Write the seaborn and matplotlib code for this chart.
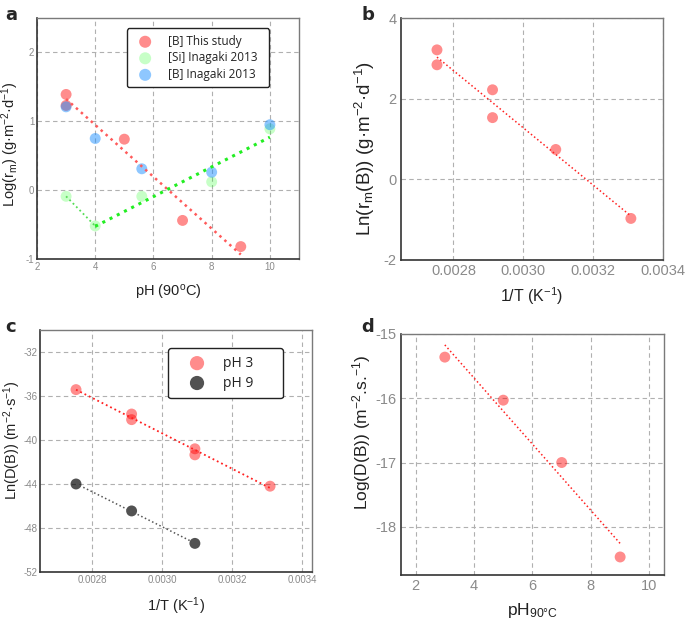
import numpy as np
import pandas as pd
import matplotlib
matplotlib.use("Agg")
import matplotlib.pyplot as plt
import matplotlib.ticker as mticker
import seaborn as sns

# ── Data ──────────────────────────────────────────────────────────────────────
# (a) log dissolution rate vs pH
ph_this = [3, 3, 5, 7, 9]
logr_this = [1.39, 1.23, 0.74, -0.44, -0.82]
ph_si = [3, 4, 5.6, 8, 10]
logr_si = [-0.09, -0.52, -0.09, 0.12, 0.89]
ph_b_ina = [3, 4, 5.6, 8, 10]
logr_b_ina = [1.21, 0.75, 0.31, 0.26, 0.95]

# (b) Arrhenius plot of rates
invT_b = [0.002753, 0.002753, 0.002912, 0.002912, 0.003093, 0.003308]
lnr_b = [3.21, 2.84, 2.22, 1.53, 0.74, -0.97]

# (c) Arrhenius plot of diffusion coefficients
invT_ph3 = [0.002753, 0.002912, 0.002912, 0.003093, 0.003093, 0.003308]
lnD_ph3 = [-35.42, -37.64, -38.15, -40.8, -41.35, -44.2]
invT_ph9 = [0.002753, 0.002912, 0.003093]
lnD_ph9 = [-44.0, -46.45, -49.4]

# (d) log D vs pH
ph_d = [3, 5, 7, 9]
logD_d = [-15.36, -16.03, -17.0, -18.47]

# ── Style ─────────────────────────────────────────────────────────────────────
sns.set_style("white", {"axes.edgecolor": "#333333"})
plt.rcParams["font.family"] = ["Liberation Sans", "DejaVu Sans"]
plt.rcParams["mathtext.default"] = "regular"
plt.rcParams["axes.unicode_minus"] = False

RED = "red"
GREEN = "lime"
BLUE = "#1e90ff"
DARK = "black"
TICK_C = "#8a8a8a"
LABEL_C = "#222222"
LEG_FONT = ["Open Sans", "DejaVu Sans"]
MS = 62


def style_axes(ax, tick_size):
    for side in ["left", "bottom"]:
        ax.spines[side].set_color("#333333")
        ax.spines[side].set_linewidth(1.2)
    for side in ["top", "right"]:
        ax.spines[side].set_color("#7a7a7a")
        ax.spines[side].set_linewidth(1.0)
    ax.grid(True, which="major", color="#b0b0b0", linestyle=(0, (4, 3)), linewidth=0.8)
    ax.set_axisbelow(True)
    ax.tick_params(which="both", direction="in", color="#333333",
                   labelcolor=TICK_C, labelsize=tick_size, pad=3)
    ax.tick_params(which="major", length=4, width=1)
    ax.tick_params(which="minor", length=2.5, width=1)


def scatter(ax, x, y, color, alpha, label=None, s=MS):
    df = pd.DataFrame({"x": x, "y": y})
    sns.scatterplot(data=df, x="x", y="y", ax=ax, color=color, alpha=alpha,
                    s=s, edgecolor="none", label=label, legend=False)


def fit(ax, x, y, color, lw):
    df = pd.DataFrame({"x": x, "y": y})
    sns.regplot(data=df, x="x", y="y", ax=ax, scatter=False, ci=None,
                line_kws={"color": color, "linestyle": ":", "linewidth": lw})


def boxed_legend(ax, bbox, size, **kw):
    leg = ax.legend(loc="upper left", bbox_to_anchor=bbox, mode="expand",
                    borderaxespad=0, frameon=True, fancybox=True,
                    edgecolor="#222222", framealpha=1,
                    prop={"family": LEG_FONT, "size": size}, **kw)
    leg.get_frame().set_linewidth(1.0)
    for t in leg.get_texts():
        t.set_color("#222222")
    return leg


fig = plt.figure(figsize=(6.85, 6.23), dpi=100)
ax_a = fig.add_axes([0.054, 0.5843, 0.3825, 0.3868])
ax_b = fig.add_axes([0.5854, 0.5827, 0.3825, 0.3884])
ax_c = fig.add_axes([0.0584, 0.0819, 0.3971, 0.3884])
ax_d = fig.add_axes([0.5854, 0.0771, 0.3839, 0.3868])

# ── (a) ───────────────────────────────────────────────────────────────────────
style_axes(ax_a, 7)
ax_a.tick_params(pad=2)
fit(ax_a, ph_this, logr_this, "#ff5a5a", 1.8)
fit(ax_a, ph_si[:2], logr_si[:2], "#55dd55", 1.3)
fit(ax_a, ph_si[1:], logr_si[1:], "#22ee22", 2.2)
scatter(ax_a, ph_this, logr_this, RED, 0.45, "[B] This study")
scatter(ax_a, ph_si, logr_si, GREEN, 0.22, "[Si] Inagaki 2013")
scatter(ax_a, ph_b_ina, logr_b_ina, BLUE, 0.5, "[B] Inagaki 2013")
ax_a.set_xlim(2, 11)
ax_a.set_ylim(-1, 2.5)
ax_a.xaxis.set_major_locator(mticker.MultipleLocator(2))
ax_a.xaxis.set_minor_locator(mticker.MultipleLocator(1))
ax_a.yaxis.set_major_locator(mticker.MultipleLocator(1))
ax_a.yaxis.set_minor_locator(mticker.MultipleLocator(0.5))
ax_a.set_xlabel("pH (90$^{o}$C)", fontsize=10.5, color=LABEL_C, labelpad=8)
ax_a.set_ylabel("Log(r$_{m}$) (g·m$^{-2}$·d$^{-1}$)", fontsize=10.5, color=LABEL_C)
ax_a.yaxis.set_label_coords(-0.062, 0.477)
boxed_legend(ax_a, (0.343, 0.71, 0.542, 0.247), 8.5, markerscale=1.1,
             handlelength=2.0, handletextpad=0.9, borderpad=0.55, labelspacing=0.3)

# ── (b) ───────────────────────────────────────────────────────────────────────
style_axes(ax_b, 10.5)
fit(ax_b, invT_b, lnr_b, "#ff2020", 1.1)
scatter(ax_b, invT_b, lnr_b, RED, 0.45)
ax_b.set_xlim(0.00265, 0.0034)
ax_b.set_ylim(-2, 4)
ax_b.xaxis.set_major_locator(mticker.MultipleLocator(0.0002))
ax_b.xaxis.set_minor_locator(mticker.MultipleLocator(0.0001))
ax_b.xaxis.set_major_formatter(mticker.FormatStrFormatter("%.4f"))
ax_b.yaxis.set_major_locator(mticker.MultipleLocator(2))
ax_b.yaxis.set_minor_locator(mticker.MultipleLocator(1))
ax_b.set_xlabel("1/T (K$^{-1}$)", fontsize=11.5, color=LABEL_C, labelpad=5)
ax_b.set_ylabel("Ln(r$_{m}$(B)) (g·m$^{-2}$·d$^{-1}$)", fontsize=13.5, color=LABEL_C)
ax_b.yaxis.set_label_coords(-0.092, 0.459)

# ── (c) ───────────────────────────────────────────────────────────────────────
style_axes(ax_c, 7)
ax_c.tick_params(pad=2)
fit(ax_c, invT_ph3, lnD_ph3, "#ff2020", 1.3)
fit(ax_c, invT_ph9, lnD_ph9, "#555555", 1.1)
scatter(ax_c, invT_ph3, lnD_ph3, RED, 0.45, "pH 3")
scatter(ax_c, invT_ph9, lnD_ph9, DARK, 0.68, "pH 9")
ax_c.set_xlim(0.00265, 0.003428)
ax_c.set_ylim(-52, -30)
ax_c.xaxis.set_major_locator(mticker.MultipleLocator(0.0002))
ax_c.xaxis.set_minor_locator(mticker.MultipleLocator(0.0001))
ax_c.xaxis.set_major_formatter(mticker.FormatStrFormatter("%.4f"))
ax_c.yaxis.set_major_locator(mticker.FixedLocator([-52, -48, -44, -40, -36, -32]))
ax_c.yaxis.set_minor_locator(mticker.MultipleLocator(2))
ax_c.set_xlabel("1/T (K$^{-1}$)", fontsize=10.5, color=LABEL_C, labelpad=8)
ax_c.set_ylabel("Ln(D(B)) (m$^{-2}$·s$^{-1}$)", fontsize=10.5, color=LABEL_C)
ax_c.yaxis.set_label_coords(-0.064, 0.545)
boxed_legend(ax_c, (0.47, 0.715, 0.423, 0.21), 10, markerscale=1.3,
             handlelength=3.1, handletextpad=0.3, borderpad=0.55, labelspacing=0.35)

# ── (d) ───────────────────────────────────────────────────────────────────────
style_axes(ax_d, 10.5)
fit(ax_d, ph_d, logD_d, "#ff2020", 1.1)
scatter(ax_d, ph_d, logD_d, RED, 0.45)
ax_d.set_xlim(1.5, 10.5)
ax_d.set_ylim(-18.75, -15)
ax_d.xaxis.set_major_locator(mticker.MultipleLocator(2))
ax_d.xaxis.set_minor_locator(mticker.MultipleLocator(1))
ax_d.yaxis.set_major_locator(mticker.MultipleLocator(1))
ax_d.yaxis.set_minor_locator(mticker.MultipleLocator(0.5))
ax_d.set_xlabel("pH$_{90°C}$", fontsize=12.5, color=LABEL_C, labelpad=6)
ax_d.set_ylabel("Log(D(B)) (m$^{-2}$.s.$^{-1}$)", fontsize=12.5, color=LABEL_C)
ax_d.yaxis.set_label_coords(-0.106, 0.593)

# panel letters
for txt, x, y in [("a", 0.008, 0.99), ("b", 0.528, 0.99),
                  ("c", 0.008, 0.49), ("d", 0.528, 0.49)]:
    fig.text(x, y, txt, fontsize=13, fontweight="bold", va="top", ha="left",
             family=["DejaVu Sans"])

fig.savefig("out.png", dpi=100)
